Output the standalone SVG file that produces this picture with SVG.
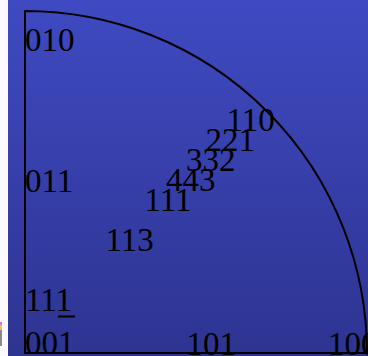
<svg xmlns="http://www.w3.org/2000/svg" width="368" height="356" viewBox="0 0 368 356">
<defs>
<linearGradient id="bg" x1="0" y1="0" x2="0" y2="1">
<stop offset="0" stop-color="#3f4ac2"/>
<stop offset="1" stop-color="#2d3491"/>
</linearGradient>
<style>
.lbl{font-family:"Liberation Serif","Times New Roman",serif;font-size:33px;fill:#000}
.ln{fill:none;stroke:#000;stroke-width:2}
</style>
</defs>
<rect x="0" y="0" width="368" height="356" fill="#fdf9fd"/>
<rect x="8" y="0" width="360" height="356" fill="url(#bg)"/>
<rect x="0" y="322" width="2" height="3" fill="#e86ee0"/>
<rect x="0" y="325" width="2" height="5" fill="#e8c060"/>
<rect x="0" y="330" width="2" height="16" fill="#8a8a88"/>
<g id="outline">
<path class="ln" d="M25,353 L25,11 A342,342 0 0 1 367,353 Z"/>
</g>
<g id="labels">
<g id="n010"><text class="lbl" x="25" y="51">010</text></g>
<g id="n011"><text class="lbl" x="25" y="192">011</text></g>
<g id="n113"><text class="lbl" x="105.5" y="251">113</text></g>
<g id="n111"><text class="lbl" x="144.5" y="211">111</text></g>
<g id="n443"><text class="lbl" x="166" y="191">443</text></g>
<g id="n332"><text class="lbl" x="186" y="171">332</text></g>
<g id="n221"><text class="lbl" x="205.5" y="151">221</text></g>
<g id="n110"><text class="lbl" x="226.5" y="131">110</text></g>
<g id="n11m1"><text class="lbl" x="25" y="311">111</text><line x1="58" y1="316.5" x2="75" y2="316.5" stroke="#000" stroke-width="2"/></g>
<g id="n001"><text class="lbl" x="25" y="354">001</text></g>
<g id="n101"><text class="lbl" x="186.5" y="355">101</text></g>
<g id="n100"><text class="lbl" x="328" y="355">100</text></g>
</g>
</svg>
